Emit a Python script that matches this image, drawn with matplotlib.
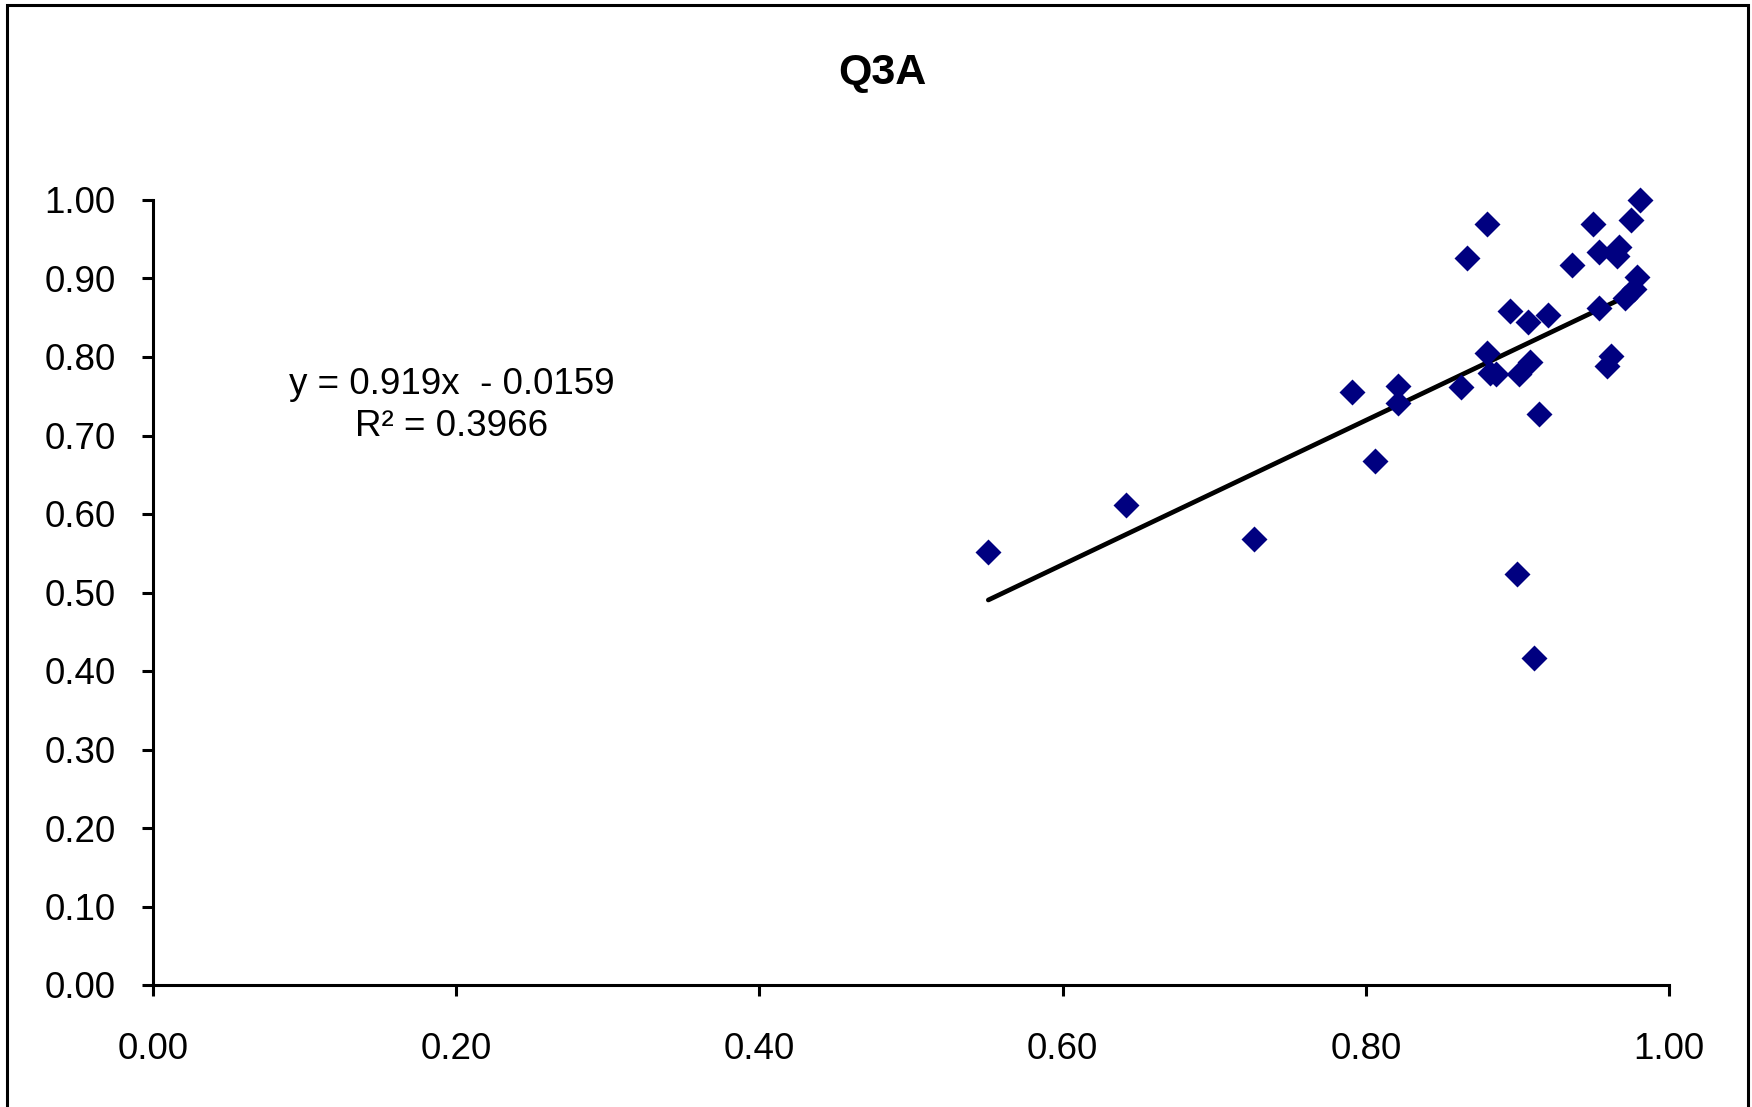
import matplotlib
matplotlib.use("Agg")
import matplotlib.pyplot as plt
from matplotlib.patches import Rectangle
import numpy as np

plt.rcParams['font.family'] = ['Liberation Sans', 'DejaVu Sans']

title = "Q3A"
x_vals = [0.981, 0.975, 0.950, 0.880, 0.967, 0.954, 0.966, 0.867, 0.936, 0.979,
          0.977, 0.971, 0.954, 0.895, 0.920, 0.907, 0.962, 0.959, 0.880, 0.908,
          0.882, 0.886, 0.901, 0.791, 0.821, 0.821, 0.863, 0.914, 0.806, 0.900,
          0.911, 0.551, 0.642, 0.726]
y_vals = [1.000, 0.975, 0.970, 0.970, 0.940, 0.934, 0.929, 0.926, 0.917, 0.902,
          0.887, 0.875, 0.862, 0.858, 0.854, 0.844, 0.801, 0.789, 0.805, 0.794,
          0.779, 0.778, 0.778, 0.756, 0.763, 0.742, 0.762, 0.728, 0.667, 0.524,
          0.417, 0.551, 0.612, 0.568]
slope = 0.919
intercept = -0.0159
r2 = 0.3966
ticks = [0.0, 0.1, 0.2, 0.3, 0.4, 0.5, 0.6, 0.7, 0.8, 0.9, 1.0]
xticks = [0.0, 0.2, 0.4, 0.6, 0.8, 1.0]

fig = plt.figure(figsize=(17.52, 11.07), dpi=100)
fig.patches.append(Rectangle((7/1752, -0.05), (1748-7)/1752, 1.05 - 5/1107,
                             transform=fig.transFigure, fill=False,
                             edgecolor='black', linewidth=2.2))
ax = fig.add_axes([153/1752, 1 - 985/1107, (1669-153)/1752, (985-200)/1107])

ax.scatter(x_vals, y_vals, marker='D', s=175, color='#000080', zorder=3,
           linewidths=0, clip_on=False)
xs = np.array([min(x_vals), max(x_vals)])
ax.plot(xs, slope * xs + intercept, color='black', linewidth=3.4, zorder=2,
        solid_capstyle='round')

ax.set_xlim(0, 1)
ax.set_ylim(0, 1)
ax.set_xticks(xticks)
ax.set_yticks(ticks)
ax.set_xticklabels([f"{t:.2f}" for t in xticks])
ax.set_yticklabels([f"{t:.2f}" for t in ticks])
for s in ['top', 'right']:
    ax.spines[s].set_visible(False)
for s in ['left', 'bottom']:
    ax.spines[s].set_linewidth(2.2)
ax.tick_params(axis='both', direction='out', length=8, width=2.2, labelsize=26.5)
ax.tick_params(axis='y', pad=19)
ax.tick_params(axis='x', pad=26)

sign = '-' if intercept < 0 else '+'
ax.text(0.197, 0.765, f"y = {slope:.3f}x  {sign} {abs(intercept):.4f}", fontsize=26.5,
        ha='center', va='center', transform=ax.transData)
ax.text(0.197, 0.711, f"R² = {r2:.4f}", fontsize=26.5, ha='center', va='center',
        transform=ax.transData)

fig.text(882/1752, 1 - 73/1107, title, fontsize=31, fontweight='bold',
         ha='center', va='center')

fig.savefig("out.png", dpi=100)
